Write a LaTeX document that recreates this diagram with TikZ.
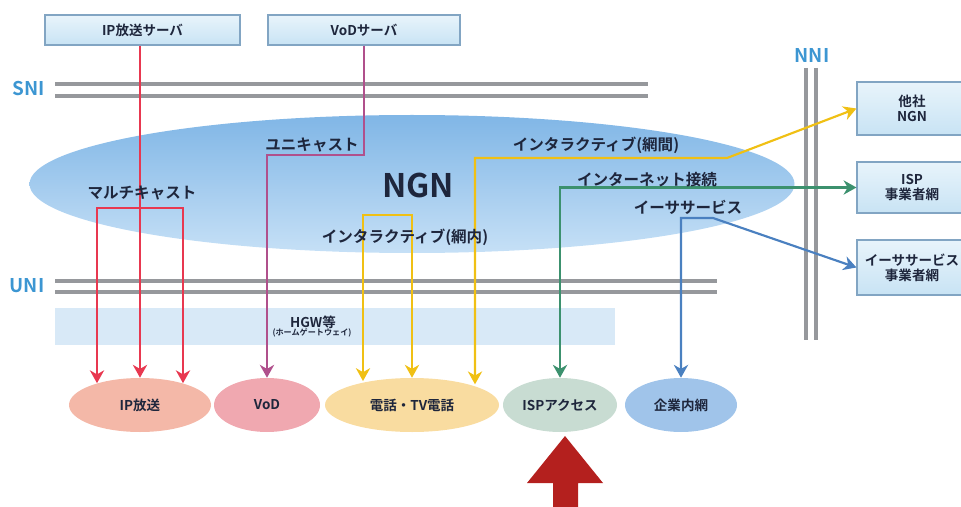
\documentclass[tikz,border=0pt]{standalone}
\usepackage{fontspec}
\setmainfont{Noto Sans CJK JP}[BoldFont={* Bold}]
\usetikzlibrary{shapes.geometric,arrows.meta,calc}
\newcommand\pxu{0.026cm}
\definecolor{txt}{RGB}{30,38,60}
\definecolor{lblblue}{RGB}{60,150,210}
\definecolor{railgray}{RGB}{150,152,156}
\definecolor{srvline}{RGB}{130,165,195}
\definecolor{srvtop}{RGB}{232,244,251}
\definecolor{srvbot}{RGB}{200,227,244}
\definecolor{ngntop}{RGB}{128,182,230}
\definecolor{ngnbot}{RGB}{198,224,246}
\definecolor{hgwfill}{RGB}{216,233,247}
\definecolor{redl}{RGB}{232,56,80}
\definecolor{purl}{RGB}{176,80,140}
\definecolor{yell}{RGB}{240,192,20}
\definecolor{grnl}{RGB}{60,145,110}
\definecolor{blul}{RGB}{74,128,192}
\definecolor{ipfill}{RGB}{244,184,168}
\definecolor{vodfill}{RGB}{240,168,176}
\definecolor{telfill}{RGB}{249,220,160}
\definecolor{ispfill}{RGB}{200,220,210}
\definecolor{entfill}{RGB}{160,196,234}
\definecolor{bigred}{RGB}{180,32,30}
\begin{document}
\begin{tikzpicture}[x=0.026cm,y=-0.026cm,
  server/.style={draw=srvline, line width=0.8pt, top color=srvtop, bottom color=srvbot,
    inner sep=0pt, font=\fontsize{10}{12}\selectfont\bfseries, text=txt},
  rbox/.style={draw=srvline, line width=0.8pt, top color=srvtop, bottom color=srvbot,
    inner sep=0pt, align=center, font=\fontsize{10}{11}\selectfont\bfseries, text=txt},
  endpt/.style={ellipse, inner sep=0pt, minimum height=54*\pxu,
    font=\fontsize{10}{12}\selectfont\bfseries, text=txt},
  lbl/.style={inner sep=0pt, font=\fontsize{11.5}{13}\selectfont\bfseries, text=txt},
  iflbl/.style={inner sep=0pt, font=\fontsize{14}{16}\selectfont\bfseries, text=lblblue},
  rail/.style={line width=2.4pt, draw=railgray},
  tipk/.tip={Stealth[length=9.5pt,width=10.5pt,inset=3pt]},
  arr/.style={line width=1.6pt, -tipk},
  both/.style={line width=1.6pt, tipk-tipk}]
\useasboundingbox (0,0) rectangle (961,507);
\clip (0,0) rectangle (961,507);

% NGN cloud
\node[ellipse, minimum width=765*\pxu, minimum height=138*\pxu, inner sep=0pt,
  top color=ngntop, bottom color=ngnbot] (ngn) at (412,184) {};

% rails
\draw[rail] (55,84) -- (648,84);
\draw[rail] (55,96) -- (648,96);
\draw[rail] (55,281) -- (717,281);
\draw[rail] (55,292) -- (717,292);
\draw[rail] (806,68) -- (806,340);
\draw[rail] (816,68) -- (816,340);
\node[iflbl] (sni) at (29,89) {SNI};
\node[iflbl] (uni) at (27,286) {UNI};
\node[iflbl] (nni) at (812,55) {NNI};

% HGW band
\fill[hgwfill] (55,308) rectangle (615,345);
\node[inner sep=0pt, font=\fontsize{10}{11}\selectfont\bfseries, text=txt] (hgw) at (313,322) {HGW等};
\node[inner sep=0pt, font=\fontsize{6}{7}\selectfont\bfseries, text=txt] (hgw2) at (312,333) {(ホームゲートウェイ)};

% servers
\node[server, minimum width=195*\pxu, minimum height=30*\pxu] (ipsrv) at (142.5,30) {IP放送サーバ};
\node[server, minimum width=192*\pxu, minimum height=30*\pxu] (vodsrv) at (364,30) {VoDサーバ};

% right boxes
\node[rbox, minimum width=110*\pxu, minimum height=53*\pxu] (othb) at (912,108.5) {他社\\NGN};
\node[rbox, minimum width=110*\pxu, minimum height=51*\pxu] (ispb) at (912,187.5) {ISP\\事業者網};
\node[rbox, minimum width=110*\pxu, minimum height=55*\pxu] (ethb) at (912,267.5) {イーササービス\\事業者網};

% bottom endpoints
\node[endpt, minimum width=142*\pxu, fill=ipfill] (ipb) at (140,405) {IP放送};
\node[endpt, minimum width=106*\pxu, fill=vodfill] (vodb) at (267,405) {VoD};
\node[endpt, minimum width=174*\pxu, fill=telfill] (telb) at (412,405) {電話・TV電話};
\node[endpt, minimum width=114*\pxu, fill=ispfill] (isab) at (560,405) {ISPアクセス};
\node[endpt, minimum width=112*\pxu, fill=entfill] (entb) at (681,405) {企業内網};

% coordinates of bends
\coordinate (mcL) at (97,208);
\coordinate (mcR) at (183,208);
\coordinate (ucB) at (267,155);
\coordinate (ynL) at (363,215);
\coordinate (ynR) at (412,215);
\coordinate (yoB) at (475,158);
\coordinate (yoC) at (727,158);
\coordinate (ebB) at (713,218);

% multicast (red)
\draw[redl, arr] (ipsrv.south -| ipb.north) -- (ipb.north);
\draw[redl, both] (mcL |- ipb.153) -- (mcL) -- (mcR) -- (mcR |- ipb.27);
% unicast (purple)
\draw[purl, arr] (vodsrv.south) |- (ucB) -- (vodb.north);
% interactive inside (yellow)
\draw[yell, both] (ynL |- telb.150) -- (ynL) -- (ynR) -- (telb.north);
% interactive between networks (yellow)
\draw[yell, both] (yoB |- telb.20) -- (yoB) -- (yoC) -- (othb.west);
% internet (green)
\draw[grnl, both] (isab.north) |- (ispb.west);
% ether (blue)
\draw[blul, both] (entb.north) |- (ebB) -- (ethb.west);

% labels
\node[inner sep=0pt, font=\fontsize{24}{26}\selectfont\bfseries, text=txt] (ngnt) at (418,185) {NGN};
\node[lbl] (uc) at (312,145) {ユニキャスト};
\node[lbl] (mc) at (142,193) {マルチキャスト};
\node[lbl] (inin) at (405,237) {インタラクティブ(網内)};
\node[lbl] (inbt) at (596,145) {インタラクティブ(網間)};
\node[lbl] (inet) at (647,180) {インターネット接続};
\node[lbl] (ether) at (688,207) {イーササービス};

% big red arrow
\fill[bigred] (553,510) -- (553,483) -- (527,483) -- (565,436) -- (603,483) -- (578,483) -- (578,510) -- cycle;
\end{tikzpicture}
\end{document}
